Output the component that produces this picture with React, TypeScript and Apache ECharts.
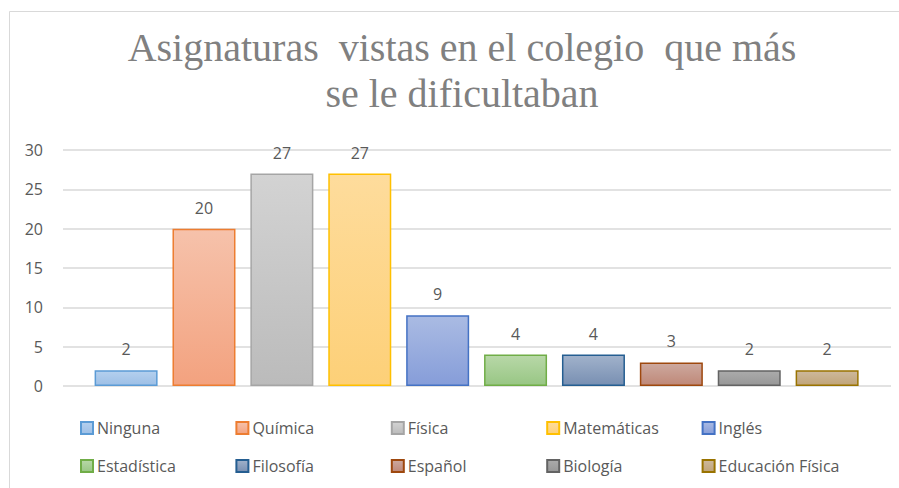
import React, { useEffect, useRef } from "react";
import * as echarts from "echarts";

const categories = [
  "Ninguna",
  "Química",
  "Física",
  "Matemáticas",
  "Inglés",
  "Estadística",
  "Filosofía",
  "Español",
  "Biología",
  "Educación Física",
];
const values = [2, 20, 27, 27, 9, 4, 4, 3, 2, 2];
const borderColors = [
  "#5B9BD5", "#ED7D31", "#A5A5A5", "#FFC000", "#4472C4",
  "#70AD47", "#255E91", "#9E480E", "#636363", "#997300",
];
const topColors = [
  "#b4d0ee", "#f6c2ab", "#d3d3d3", "#fedc9c", "#aabbe3",
  "#b8d8a8", "#a1b2cb", "#cda99f", "#ababab", "#cdb99d",
];
const bottomColors = [
  "#9dbfe6", "#f3a27f", "#bbbbbb", "#fdd078", "#869dd9",
  "#98c684", "#788fb2", "#bf8878", "#979797", "#c0a478",
];
const yTicks = { min: 0, max: 30, interval: 5 };
const titleLines = ["Asignaturas  vistas en el colegio  que más", "se le dificultaban"];

export default function App() {
  const ref = useRef<HTMLDivElement>(null);
  useEffect(() => {
    if (!ref.current) return;
    const chart = echarts.init(ref.current, undefined, { renderer: "svg" });
    const textColor = "#595959";
    const series = categories.map((name, i) => ({
      name,
      type: "bar",
      barWidth: 63,
      barGap: "-100%",
      data: [[i, values[i]]],
      itemStyle: {
        color: new echarts.graphic.LinearGradient(0, 0, 0, 1, [
          { offset: 0, color: topColors[i] },
          { offset: 1, color: bottomColors[i] },
        ]),
        borderColor: borderColors[i],
        borderWidth: 1.5,
      },
      label: {
        show: true,
        position: "top",
        distance: 13,
        color: textColor,
        fontSize: 16,
        fontFamily: "Open Sans",
      },
    }));
    const legends = categories.map((name, i) => ({
      left: 80 + (i % 5) * 155.4,
      top: i < 5 ? 420 : 458,
      padding: 0,
      itemWidth: 12,
      itemHeight: 12,
      itemGap: 0,
      icon: "rect",
      data: [name],
      textStyle: {
        color: textColor,
        fontSize: 16,
        fontFamily: "Open Sans",
        padding: [0, 0, 0, -1],
      },
    }));
    chart.setOption({
      animation: false,
      backgroundColor: "#ffffff",
      graphic: [
        {
          type: "rect",
          shape: { x: 9.5, y: 11.5, width: 900, height: 500 },
          style: { fill: "none", stroke: "#d9d9d9", lineWidth: 1 },
          silent: true,
        },
        {
          type: "text",
          x: 462,
          y: 24,
          silent: true,
          style: {
            text: titleLines.join("\n"),
            textAlign: "center",
            fontFamily: "Liberation Serif",
            fontSize: 40,
            lineHeight: 46,
            fill: "#808080",
          },
        },
      ],
      legend: legends,
      grid: { left: 63, right: 8, top: 150, bottom: 102 },
      xAxis: {
        type: "value",
        min: -0.81,
        max: 9.82,
        show: false,
        splitLine: { show: false },
      },
      yAxis: {
        type: "value",
        min: yTicks.min,
        max: yTicks.max,
        interval: yTicks.interval,
        axisLine: { show: false },
        axisTick: { show: false },
        axisLabel: {
          color: textColor,
          fontSize: 16,
          fontFamily: "Open Sans",
          margin: 20,
        },
        splitLine: { lineStyle: { color: "#d9d9d9", width: 1.5 } },
      },
      series,
    });
    return () => chart.dispose();
  }, []);
  return (
    <div
      ref={ref}
      style={{ position: "fixed", left: 0, top: 0, width: 899, height: 488 }}
    />
  );
}
